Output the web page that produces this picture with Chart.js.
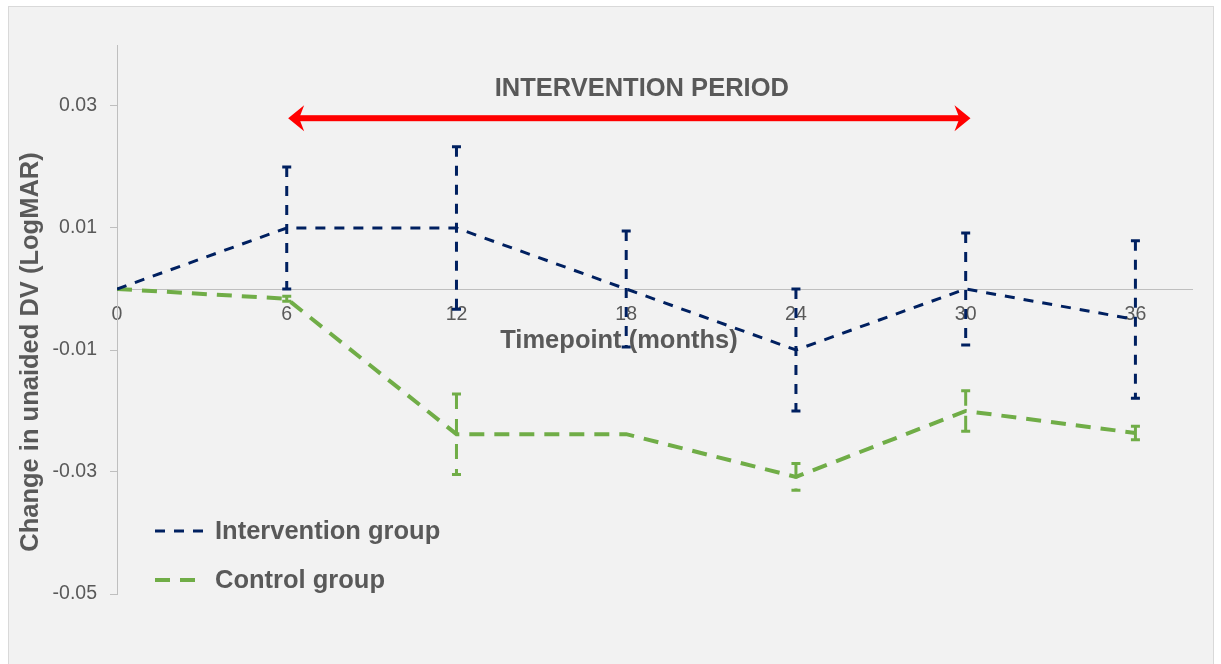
<!DOCTYPE html>
<html>
<head>
<meta charset="utf-8">
<script src="https://cdn.jsdelivr.net/npm/chart.js@4.4.1/dist/chart.umd.min.js"></script>
<style>
  html, body { margin: 0; padding: 0; background: #fff; }
</style>
</head>
<body>
<canvas id="chart" width="1221" height="664"></canvas>
<script>
// Data
const months = [0, 6, 12, 18, 24, 30, 36];
const interventionMean = [0, 0.01, 0.01, 0, -0.01, 0, -0.005];
const interventionErr = [0, 0.01, 0.0133, 0.0095, 0.01, 0.0092, 0.0129];
const controlMean = [0, -0.0016, -0.0238, -0.0238, -0.0308, -0.0200, -0.0236];
const controlErr = [0, 0.0004, 0.0066, 0, 0.0022, 0.0033, 0.0011];
const xTicks = [0, 6, 12, 18, 24, 30, 36];
const yTicks = [-0.05, -0.03, -0.01, 0.01, 0.03];

const FONT = '"Liberation Sans", Arial, sans-serif';
const GREY = '#595959';

// Background, error bars, arrow, legend and titles
const decorations = {
    id: 'decorations',
    beforeDraw(chart) {
        const ctx = chart.ctx;
        ctx.save();
        ctx.fillStyle = '#f2f2f2';
        ctx.fillRect(8, 6, 1206, 670);
        ctx.strokeStyle = '#d9d9d9';
        ctx.lineWidth = 1;
        ctx.strokeRect(8.5, 6.5, 1205, 670);
        ctx.restore();
    },
    afterDatasetsDraw(chart) {
        const ctx = chart.ctx;
        const x = chart.scales.x, y = chart.scales.y;
        chart.data.datasets.forEach(ds => {
            ds.errors.forEach((err, i) => {
                if (!err) return;
                const px = x.getPixelForValue(months[i]);
                const top = y.getPixelForValue(ds.data[i].y + err);
                const bot = y.getPixelForValue(ds.data[i].y - err);
                ctx.save();
                ctx.strokeStyle = ds.borderColor;
                ctx.lineWidth = ds.errorWidth;
                ctx.setLineDash(ds.borderDash);
                ctx.beginPath();
                ctx.moveTo(px, top);
                ctx.lineTo(px, bot);
                ctx.stroke();
                ctx.setLineDash([]);
                ctx.beginPath();
                ctx.moveTo(px - 4.5, top);
                ctx.lineTo(px + 4.5, top);
                ctx.moveTo(px - 4.5, bot);
                ctx.lineTo(px + 4.5, bot);
                ctx.stroke();
                ctx.restore();
            });
        });
    },
    afterDraw(chart) {
        const ctx = chart.ctx;
        const x = chart.scales.x, y = chart.scales.y;
        ctx.save();

        // Intervention period arrow
        const x1 = x.getPixelForValue(6.05), x2 = x.getPixelForValue(30.17);
        const ay = y.getPixelForValue(0.028);
        ctx.fillStyle = '#ff0000';
        ctx.fillRect(x1 + 8, ay - 3, x2 - x1 - 16, 6);
        [[x1, 1], [x2, -1]].forEach(([tip, d]) => {
            ctx.beginPath();
            ctx.moveTo(tip, ay);
            ctx.lineTo(tip + d * 16, ay - 13);
            ctx.lineTo(tip + d * 11, ay);
            ctx.lineTo(tip + d * 16, ay + 13);
            ctx.closePath();
            ctx.fill();
        });

        ctx.fillStyle = GREY;
        ctx.font = 'bold 25.5px ' + FONT;
        ctx.textAlign = 'center';
        ctx.textBaseline = 'middle';
        ctx.fillText('INTERVENTION PERIOD', x.getPixelForValue(18.55), 89);

        // Axis titles
        ctx.fillText('Timepoint (months)', 619, 341);
        ctx.save();
        ctx.translate(31, 352);
        ctx.rotate(-Math.PI / 2);
        ctx.fillText('Change in unaided DV (LogMAR)', 0, 0);
        ctx.restore();

        // Legend
        const rows = [532, 581];
        chart.data.datasets.forEach((ds, i) => {
            ctx.strokeStyle = ds.borderColor;
            ctx.lineWidth = ds.borderWidth;
            ctx.setLineDash(ds.borderDash);
            ctx.beginPath();
            ctx.moveTo(155, rows[i] - 1);
            ctx.lineTo(204, rows[i] - 1);
            ctx.stroke();
            ctx.setLineDash([]);
            ctx.textAlign = 'left';
            ctx.fillStyle = GREY;
            ctx.fillText(ds.label, 215, rows[i]);
        });
        ctx.restore();
    }
};

const ctx = document.getElementById('chart').getContext('2d');
new Chart(ctx, {
    type: 'line',
    data: {
        datasets: [{
            label: 'Intervention group',
            data: months.map((m, i) => ({x: m, y: interventionMean[i]})),
            errors: interventionErr,
            borderColor: '#002060',
            borderWidth: 3,
            errorWidth: 3,
            borderDash: [10, 9],
            pointRadius: 0,
            tension: 0,
            fill: false
        }, {
            label: 'Control group',
            data: months.map((m, i) => ({x: m, y: controlMean[i]})),
            errors: controlErr,
            borderColor: '#70ad47',
            borderWidth: 4,
            errorWidth: 3,
            borderDash: [15, 10],
            pointRadius: 0,
            tension: 0,
            fill: false
        }]
    },
    options: {
        responsive: false,
        animation: false,
        devicePixelRatio: 1,
        layout: { padding: { top: 45, right: 29, bottom: 70, left: 0 } },
        plugins: { legend: { display: false }, tooltip: { enabled: false } },
        scales: {
            x: {
                type: 'linear',
                min: 0,
                max: 38,
                position: { y: 0 },
                afterBuildTicks: axis => { axis.ticks = xTicks.map(v => ({value: v})); },
                afterFit: axis => { axis.height = 0; },
                grid: { display: false },
                border: { color: '#bfbfbf', width: 1 },
                ticks: {
                    color: GREY,
                    font: { family: FONT, size: 19.5 },
                    padding: 6,
                    maxRotation: 0,
                    autoSkip: false
                }
            },
            y: {
                type: 'linear',
                min: -0.05,
                max: 0.04,
                afterBuildTicks: axis => { axis.ticks = yTicks.map(v => ({value: v})); },
                afterFit: axis => { axis.width = 117; },
                grid: { drawOnChartArea: false, tickLength: 7, color: '#bfbfbf' },
                border: { color: '#bfbfbf', width: 1 },
                ticks: {
                    color: GREY,
                    font: { family: FONT, size: 19.5 },
                    padding: 13,
                    callback: v => v.toFixed(2)
                }
            }
        }
    },
    plugins: [decorations]
});
</script>
</body>
</html>
